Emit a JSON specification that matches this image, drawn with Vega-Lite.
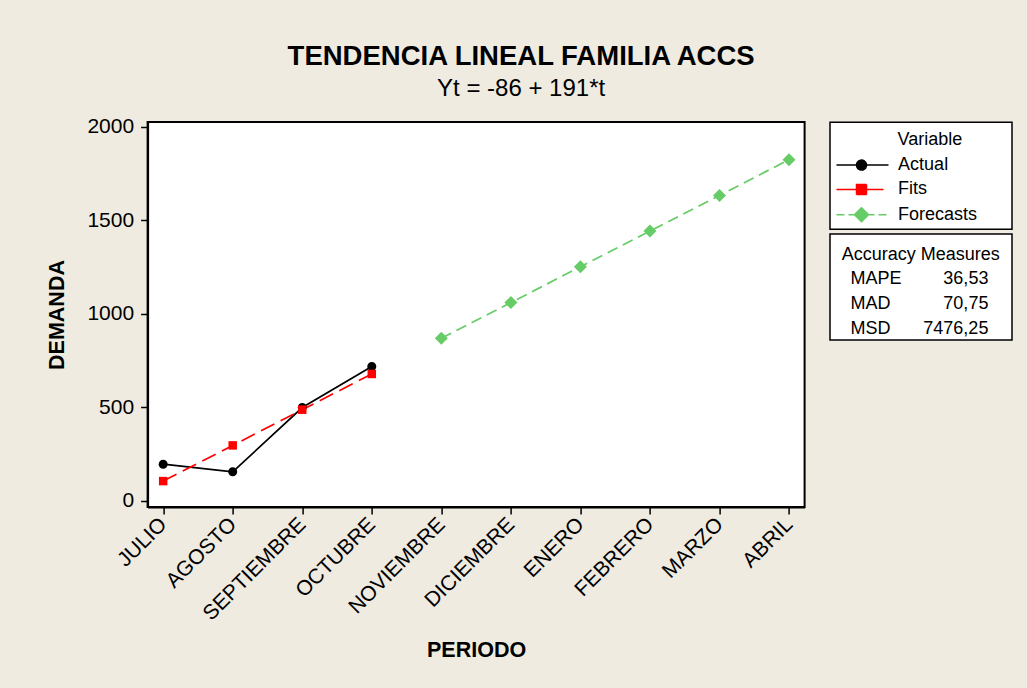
{
  "$schema": "https://vega.github.io/schema/vega-lite/v6.json",
  "width": 657,
  "height": 385,
  "autosize": "none",
  "padding": {"left": 147.6, "top": 122, "right": 222.4, "bottom": 181},
  "background": "#efebe0",
  "config": {
    "font": "Liberation Sans",
    "view": {"stroke": "black", "strokeWidth": 2, "fill": "white"}
  },
  "title": {
    "text": "TENDENCIA LINEAL FAMILIA ACCS",
    "subtitle": "Yt = -86 + 191*t",
    "anchor": "middle",
    "frame": "group",
    "dx": 45,
    "font": "Liberation Sans",
    "fontSize": 27.5,
    "fontWeight": "bold",
    "color": "black",
    "subtitleFont": "Liberation Sans",
    "subtitleFontSize": 24,
    "subtitleColor": "black",
    "subtitlePadding": 6,
    "offset": 15
  },
  "datasets": {
    "serie": [
      {"Mes": "JULIO", "Variable": "Actual", "Demanda": 195},
      {"Mes": "AGOSTO", "Variable": "Actual", "Demanda": 154},
      {"Mes": "SEPTIEMBRE", "Variable": "Actual", "Demanda": 498},
      {"Mes": "OCTUBRE", "Variable": "Actual", "Demanda": 717},
      {"Mes": "JULIO", "Variable": "Fits", "Demanda": 104.5},
      {"Mes": "AGOSTO", "Variable": "Fits", "Demanda": 295.5},
      {"Mes": "SEPTIEMBRE", "Variable": "Fits", "Demanda": 486.5},
      {"Mes": "OCTUBRE", "Variable": "Fits", "Demanda": 677.5},
      {"Mes": "NOVIEMBRE", "Variable": "Forecasts", "Demanda": 868.5},
      {"Mes": "DICIEMBRE", "Variable": "Forecasts", "Demanda": 1059.5},
      {"Mes": "ENERO", "Variable": "Forecasts", "Demanda": 1250.5},
      {"Mes": "FEBRERO", "Variable": "Forecasts", "Demanda": 1441.5},
      {"Mes": "MARZO", "Variable": "Forecasts", "Demanda": 1632.5},
      {"Mes": "ABRIL", "Variable": "Forecasts", "Demanda": 1823.5}
    ],
    "precision": [
      {"Measure": "MAPE", "Value": "36,53"},
      {"Measure": "MAD", "Value": "70,75"},
      {"Measure": "MSD", "Value": "7476,25"}
    ]
  },
  "encoding": {
    "x": {
      "field": "Mes",
      "type": "nominal",
      "sort": ["JULIO", "AGOSTO", "SEPTIEMBRE", "OCTUBRE", "NOVIEMBRE", "DICIEMBRE", "ENERO", "FEBRERO", "MARZO", "ABRIL"],
      "scale": {"type": "point", "padding": 0.224},
      "axis": {
        "title": "PERIODO",
        "labelAngle": -45,
        "labelAlign": "right",
        "labelBaseline": "middle",
        "labelFontSize": 21,
        "labelColor": "black",
        "labelPadding": 7,
        "labelOverlap": false,
        "tickSize": 7,
        "tickColor": "black",
        "tickWidth": 1.5,
        "domainColor": "black",
        "domainWidth": 2,
        "titleFontSize": 21.5,
        "titleFontWeight": "bold",
        "titleColor": "black",
        "titlePadding": 16
      }
    },
    "y": {
      "field": "Demanda",
      "type": "quantitative",
      "scale": {"domain": [-34, 2025], "nice": false, "zero": false},
      "axis": {
        "title": "DEMANDA",
        "values": [0, 500, 1000, 1500, 2000],
        "format": "d",
        "grid": false,
        "labelFontSize": 21,
        "labelColor": "black",
        "labelPadding": 7,
        "tickSize": 7,
        "tickColor": "black",
        "tickWidth": 1.5,
        "domainColor": "black",
        "domainWidth": 2,
        "titleFontSize": 21.5,
        "titleFontWeight": "bold",
        "titleColor": "black",
        "titlePadding": 18
      }
    }
  },
  "layer": [
    {
      "data": {"name": "serie"},
      "transform": [{"filter": "datum.Variable === 'Actual'"}],
      "mark": {"type": "line", "strokeWidth": 1.7},
      "encoding": {
        "color": {
          "field": "Variable",
          "type": "nominal",
          "scale": {"domain": ["Actual", "Fits", "Forecasts"], "range": ["#000000", "#ff0000", "#66cc66"]},
          "legend": {
            "title": "Variable",
            "orient": "none",
            "legendX": 682.4,
            "legendY": 0.3,
            "padding": 4.5,
            "strokeColor": "black",
            "fillColor": "white",
            "titleFont": "Liberation Sans",
            "titleFontSize": 18,
            "titleFontWeight": "normal",
            "titleColor": "black",
            "titlePadding": 11.3,
            "labelFont": "Liberation Sans",
            "labelFontSize": 18,
            "labelColor": "black",
            "labelLimit": 400,
            "labelExpr": "datum.label + '      \u200b'",
            "labelOffset": 27.6,
            "symbolOffset": 18,
            "symbolSize": 100,
            "rowPadding": 6.3,
            "encode": {
              "title": {"update": {"dx": {"value": 63}, "dy": {"value": 4}}},
              "legend": {"update": {"strokeWidth": {"value": 1.5}}},
              "symbols": {
                "update": {
                  "shape": {"signal": "datum.value === 'Actual' ? 'M-5,0H5.4M-1,0A1,1 0 1,1 1,0A1,1 0 1,1 -1,0Z' : datum.value === 'Fits' ? 'M-5,0H4.4M-1,-1H1V1H-1Z' : 'M-5,0H-3.4M-2.6,0H-1.4M1.4,0H2.6M3.4,0H5M0,-1.4L1.4,0L0,1.4L-1.4,0Z'"},
                  "fill": {"scale": "color", "field": "value"},
                  "stroke": {"scale": "color", "field": "value"},
                  "strokeDash": {"value": [1, 0]},
                  "strokeWidth": {"value": 1.5},
                  "size": {"value": 100},
                  "opacity": {"value": 1}
                }
              }
            }
          }
        }
      }
    },
    {
      "data": {"name": "serie"},
      "transform": [{"filter": "datum.Variable === 'Fits'"}],
      "mark": {"type": "line", "strokeWidth": 1.7, "strokeDash": [15, 7]},
      "encoding": {
        "color": {"field": "Variable", "type": "nominal"}
      }
    },
    {
      "data": {"name": "serie"},
      "transform": [{"filter": "datum.Variable === 'Forecasts'"}],
      "mark": {"type": "line", "strokeWidth": 1.7, "strokeDash": [11, 6]},
      "encoding": {
        "color": {"field": "Variable", "type": "nominal"}
      }
    },
    {
      "data": {"name": "serie"},
      "transform": [{"filter": "datum.Variable === 'Actual'"}],
      "mark": {"type": "point", "filled": true, "opacity": 1, "size": 100, "color": "#000000", "shape": "M-0.9,0A0.9,0.9 0 1,1 0.9,0A0.9,0.9 0 1,1 -0.9,0Z"}
    },
    {
      "data": {"name": "serie"},
      "transform": [{"filter": "datum.Variable === 'Fits'"}],
      "mark": {"type": "point", "filled": true, "opacity": 1, "size": 100, "color": "#ff0000", "shape": "M-0.85,-0.85H0.85V0.85H-0.85Z"}
    },
    {
      "data": {"name": "serie"},
      "transform": [{"filter": "datum.Variable === 'Forecasts'"}],
      "mark": {"type": "point", "filled": true, "opacity": 1, "size": 100, "color": "#66cc66", "shape": "M0,-1.3L1.3,0L0,1.3L-1.3,0Z"}
    },
    {
      "data": {"name": "precision"},
      "transform": [{"fold": ["Measure", "Value"], "as": ["clave", "celda"]}],
      "mark": {"type": "point", "filled": true, "opacity": 0},
      "encoding": {
        "x": {"value": 0},
        "y": {"value": 0},
        "fill": {
          "field": "celda",
          "type": "nominal",
          "sort": ["MAPE", "MAD", "MSD", "36,53", "70,75", "7476,25"],
          "legend": {
            "title": "Accuracy Measures  \u200b",
            "orient": "none",
            "legendX": 682.4,
            "legendY": 112,
            "padding": 2,
            "columns": 2,
            "columnPadding": 0,
            "gridAlign": "each",
            "strokeColor": "black",
            "fillColor": "white",
            "titleFont": "Liberation Sans",
            "titleFontSize": 18,
            "titleFontWeight": "normal",
            "titleColor": "black",
            "titlePadding": 15.8,
            "labelFont": "Liberation Sans",
            "labelFontSize": 18,
            "labelColor": "black",
            "labelLimit": 400,
            "labelOffset": 0.4,
            "symbolSize": 1,
            "symbolOpacity": 0,
            "rowPadding": 7,
            "encode": {
              "title": {"update": {"dx": {"value": 9.7}, "dy": {"value": 10}}},
              "legend": {"update": {"strokeWidth": {"value": 1.5}}},
              "labels": {
                "update": {
                  "align": {"signal": "datum.index >= 3 ? 'right' : 'left'"},
                  "dx": {"signal": "datum.index >= 3 ? 68 : 0"}
                }
              }
            }
          }
        }
      }
    }
  ]
}
